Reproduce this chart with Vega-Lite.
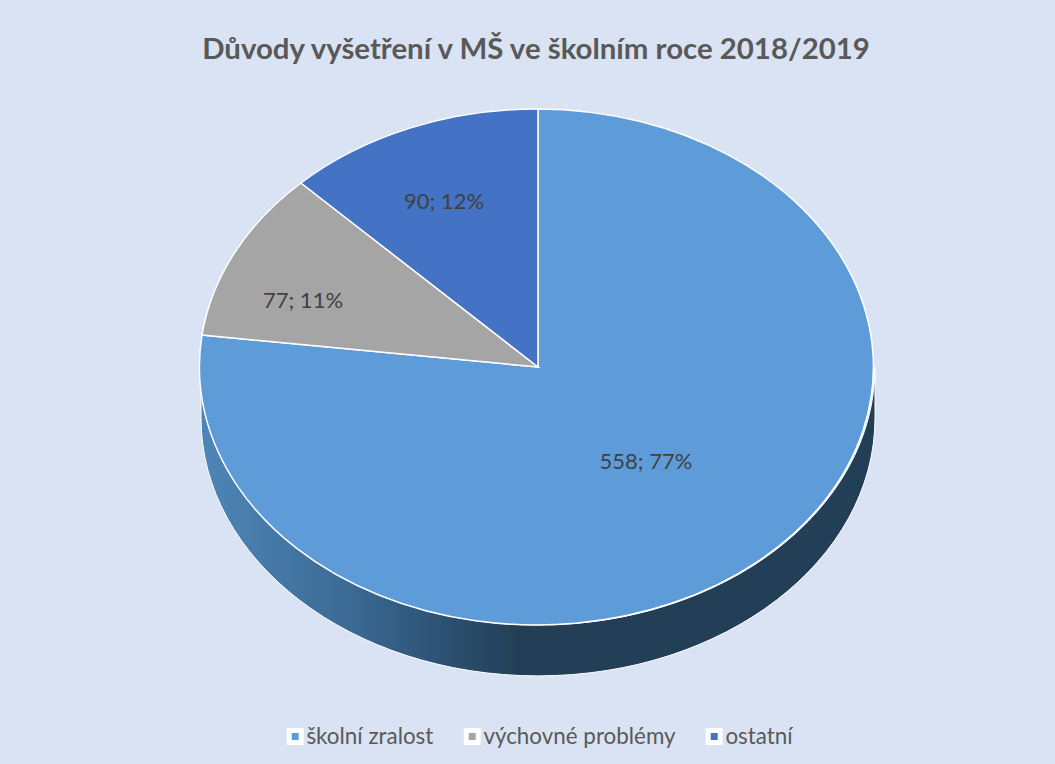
{
"$schema":"https://vega.github.io/schema/vega-lite/v6.json",
"width":1034,"height":734,
"autosize":{"type":"none"},
"padding":{"left":21,"top":0,"right":0,"bottom":30},
"background":"#dae3f3",
"title":{"text":"Důvody vyšetření v MŠ ve školním roce 2018/2019","font":"Lato","fontSize":29.4,"fontWeight":"bold","color":"#595959","anchor":"middle","frame":"group","offset":-65,"dx":-2},
"data":{"values":[
{"category":"školní zralost","value":558,"label":"558; 77%"},
{"category":"výchovné problémy","value":77,"label":"77; 11%"},
{"category":"ostatní","value":90,"label":"90; 12%"}
]},
"config":{"view":{"stroke":null}},
"layer":[
{"transform":[{"filter":"datum.value == 558"}],
"mark":{"type":"point","filled":true,"opacity":1,"size":454276,"stroke":"white","strokeWidth":1,
"shape":"M-1,0 A1,0.7656 0 0 0 1,0 L1,0.151 A1,0.7656 0 0 1 -1,0.151 Z",
"fill":{"gradient":"linear","x1":0,"y1":0,"x2":1,"y2":0,"stops":[{"offset":0,"color":"#4e86b8"},{"offset":0.22,"color":"#3b6a94"},{"offset":0.38,"color":"#2b4e6d"},{"offset":0.47,"color":"#233f57"},{"offset":1,"color":"#233f57"}]}},
"encoding":{}},
{"mark":{"type":"point","filled":true,"opacity":1,"size":454276,"stroke":"white","strokeWidth":1.5},
"encoding":{
"shape":{"field":"value","type":"nominal","legend":null,"scale":{"domain":[558,77,90],"range":[
"M0,0 L0,-0.7656 A1,0.7656 0 1 1 -0.997,-0.095 Z",
"M0,0 L-0.997,-0.095 A1,0.7656 0 0 1 -0.7033,-0.546 Z",
"M0,0 L-0.7033,-0.546 A1,0.7656 0 0 1 0,-0.7656 Z"]}},
"color":{"field":"category","type":"nominal","scale":{"domain":["školní zralost","výchovné problémy","ostatní"],"range":["#5e9cd9","#a5a5a5","#4472c4"]},
"legend":{"title":null,"orient":"none","direction":"horizontal","legendX":263,"legendY":725,"symbolType":"square","symbolSize":144,"symbolStrokeWidth":5,"symbolStrokeColor":"white","symbolOpacity":1,"labelFont":"Lato","labelFontSize":22.4,"labelColor":"#595959","labelOffset":0,"labelLimit":300,"columnPadding":22}}
}},
{"transform":[{"filter":"datum.value == 558"}],"mark":{"type":"text","font":"Lato","fontSize":22,"color":"#404040","dx":108,"dy":95},"encoding":{"text":{"field":"label"}}},
{"transform":[{"filter":"datum.value == 77"}],"mark":{"type":"text","font":"Lato","fontSize":22,"color":"#404040","dx":-235,"dy":-66},"encoding":{"text":{"field":"label"}}},
{"transform":[{"filter":"datum.value == 90"}],"mark":{"type":"text","font":"Lato","fontSize":22,"color":"#404040","dx":-94,"dy":-165},"encoding":{"text":{"field":"label"}}}
]
}
